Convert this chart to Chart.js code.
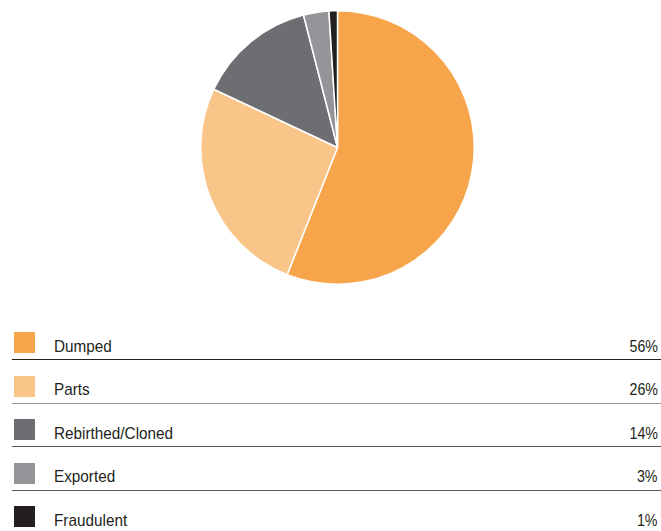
<!DOCTYPE html>
<html>
<head>
<meta charset="utf-8">
<script src="https://cdn.jsdelivr.net/npm/chart.js@4"></script>
<style>
  html, body { margin:0; padding:0; background:#fff; }
  body { width:661px; height:531px; position:relative; overflow:hidden;
         font-family:"Liberation Sans Narrow","Arial Narrow","Liberation Sans",Arial,sans-serif; }
  #pieBox { position:absolute; left:200px; top:10px; width:275px; height:275px; }
  .row { position:absolute; left:12px; right:0; height:27px; }
  .sq { position:absolute; left:2px; top:0; width:21px; height:21px; }
  .lbl { position:absolute; left:42px; top:5.6px; font-size:17px; line-height:17px; color:#231f20; white-space:nowrap;
         transform:scaleX(0.9); transform-origin:left center; }
  .pct { position:absolute; right:3px; top:5.6px; font-size:17px; line-height:17px; color:#231f20; white-space:nowrap;
         transform:scaleX(0.84); transform-origin:right center; }
  .rule { position:absolute; left:0; right:0; top:27px; height:1px; }
</style>
</head>
<body>
<div id="pieBox"><canvas id="pie"></canvas></div>
<div id="legend"></div>
<script>
const categories = ["Dumped", "Parts", "Rebirthed/Cloned", "Exported", "Fraudulent"];
const values = [56, 26, 14, 3, 1];
const sliceColors = ["#f7a54a", "#fac589", "#6d6e71", "#949599", "#231f20"];
const ruleColors = ["#231f20", "#939598", "#58595b", "#58595b", null];

new Chart(document.getElementById("pie"), {
  type: "pie",
  data: {
    labels: categories,
    datasets: [{
      data: values,
      backgroundColor: sliceColors,
      borderColor: "#ffffff",
      borderWidth: 1.5
    }]
  },
  options: {
    responsive: true,
    maintainAspectRatio: false,
    animation: false,
    layout: { padding: 0 },
    plugins: { legend: { display: false }, tooltip: { enabled: false } }
  }
});

const legend = document.getElementById("legend");
categories.forEach((c, i) => {
  const row = document.createElement("div");
  row.className = "row";
  row.style.top = (332 + i * 43.6) + "px";
  const sq = document.createElement("div");
  sq.className = "sq";
  sq.style.background = sliceColors[i];
  const lbl = document.createElement("div");
  lbl.className = "lbl";
  lbl.textContent = c;
  const pct = document.createElement("div");
  pct.className = "pct";
  pct.textContent = values[i] + "%";
  row.appendChild(sq); row.appendChild(lbl); row.appendChild(pct);
  if (ruleColors[i]) {
    const r = document.createElement("div");
    r.className = "rule";
    r.style.background = ruleColors[i];
    row.appendChild(r);
  }
  legend.appendChild(row);
});
</script>
</body>
</html>
